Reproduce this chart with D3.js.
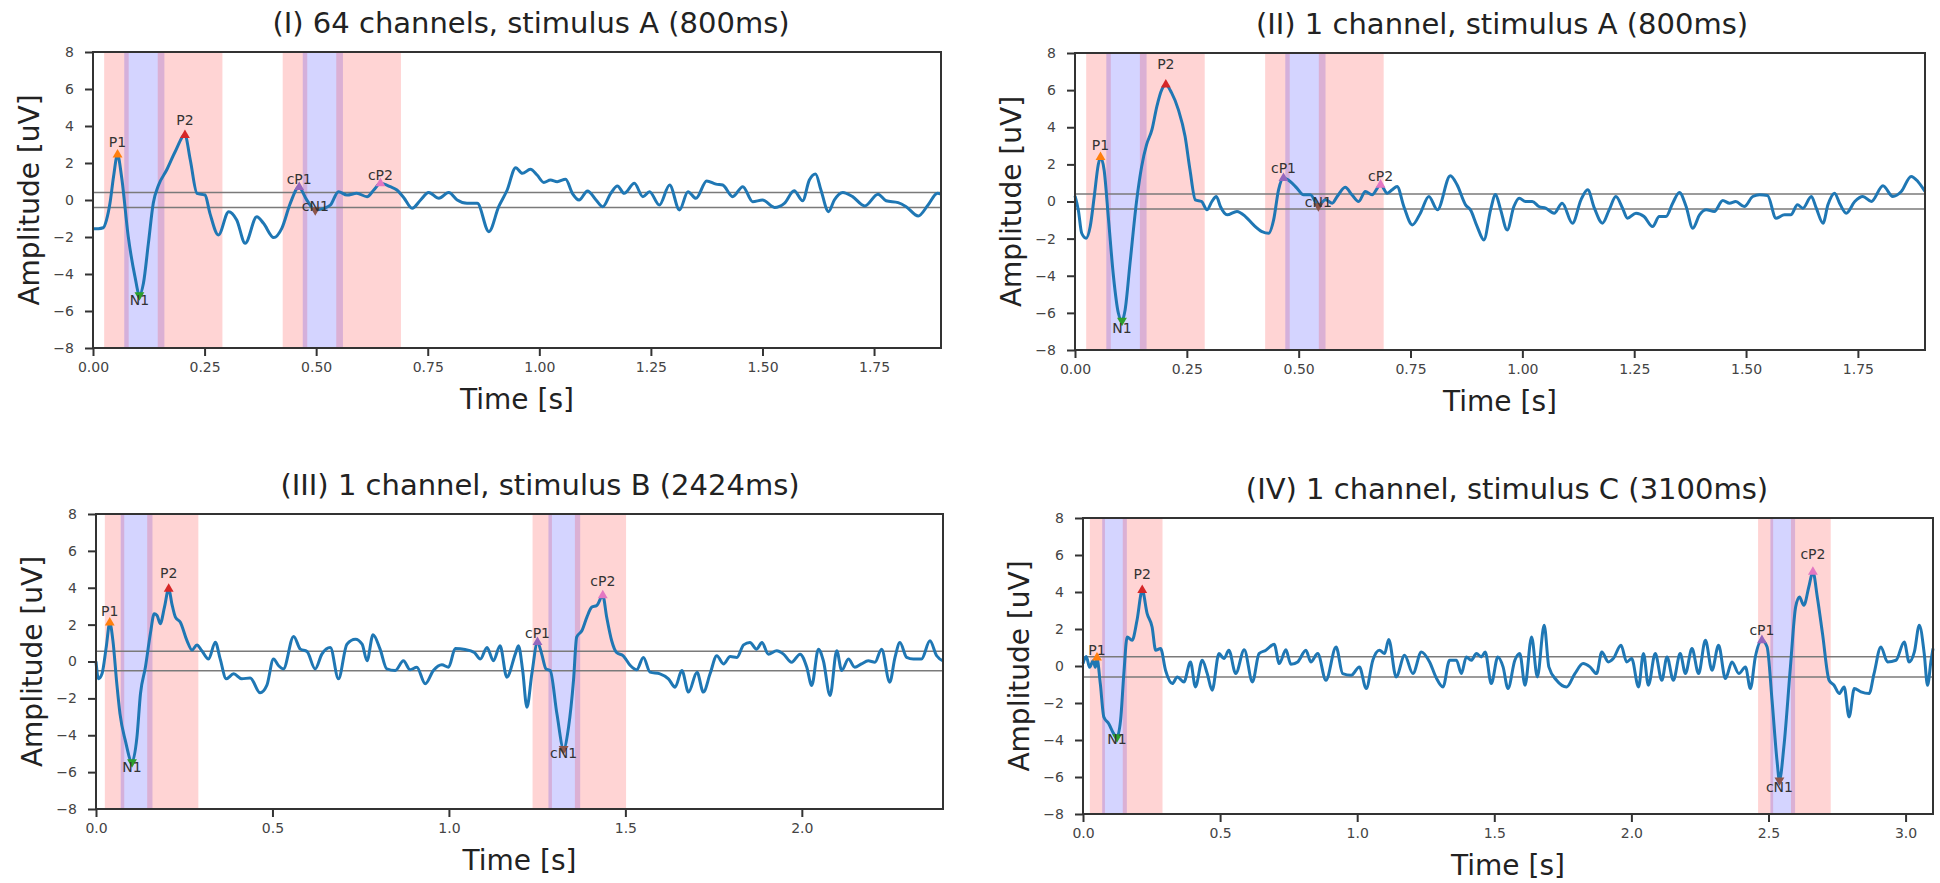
<!DOCTYPE html>
<html><head><meta charset="utf-8">
<script src="https://cdn.jsdelivr.net/npm/d3@7"></script>
<style>body{margin:0;background:#fff;} svg{display:block;font-family:"DejaVu Sans",sans-serif;}</style>
</head><body><svg id="c" width="1940" height="883"></svg>
<script>
// ---------- data ----------
const titles = ["(I) 64 channels, stimulus A (800ms)", "(II) 1 channel, stimulus A (800ms)",
                "(III) 1 channel, stimulus B (2424ms)", "(IV) 1 channel, stimulus C (3100ms)"];
const xMaxes = [1.9, 1.9, 2.4, 3.1];
const xTicksA = [0, 0.25, 0.5, 0.75, 1.0, 1.25, 1.5, 1.75];
const xTicksB = [0, 0.5, 1.0, 1.5, 2.0];
const xTicksC = [0, 0.5, 1.0, 1.5, 2.0, 2.5, 3.0];
const yTicks = [-8, -6, -4, -2, 0, 2, 4, 6, 8];
const windowNames = ["P1", "N1", "P2"];
const windowStarts = [0.025, 0.07, 0.145];
const windowEnds = [0.08, 0.16, 0.29];
const repeatOnsets = [0.4, 0.4, 1.212, 2.437];
const refUpper = [0.4, 0.4, 0.55, 0.5];
const refLower = [-0.4, -0.4, -0.5, -0.6];
const peakNames = ["P1", "N1", "P2", "cP1", "cN1", "cP2"];

const traceI = [[0,-1.55],[0.012,-1.55],[0.023,-1.5],[0.03,-1.1],[0.038,-0.18],[0.046,1.26],[0.055,2.45],[0.064,1.26],[0.079,-1.98],[0.094,-4.14],[0.104,-5.14],[0.113,-4.5],[0.124,-2.36],[0.135,-0.18],[0.147,0.81],[0.165,1.62],[0.184,2.61],[0.206,3.51],[0.218,2.16],[0.233,0.36],[0.251,0.27],[0.262,-0.72],[0.281,-1.89],[0.304,-0.63],[0.322,-1.08],[0.341,-2.34],[0.367,-0.9],[0.382,-1.26],[0.405,-2.03],[0.423,-1.53],[0.442,-0.18],[0.461,0.69],[0.479,0],[0.498,-0.54],[0.517,-0.45],[0.532,-0.27],[0.55,0.45],[0.569,0.27],[0.591,0.36],[0.614,0.18],[0.629,0.54],[0.644,0.9],[0.666,0.72],[0.681,0.54],[0.696,0.14],[0.715,-0.45],[0.734,0],[0.752,0.4],[0.775,0.09],[0.797,0.4],[0.816,0],[0.838,-0.18],[0.861,-0.18],[0.887,-1.71],[0.909,-0.36],[0.928,0.54],[0.947,1.75],[0.962,1.44],[0.98,1.66],[0.995,1.35],[1.01,0.95],[1.025,1.08],[1.04,0.99],[1.059,1.12],[1.074,0.36],[1.089,0],[1.108,0.49],[1.127,0],[1.142,-0.36],[1.16,0.36],[1.175,0.76],[1.19,0.36],[1.213,0.9],[1.232,0.18],[1.247,0.45],[1.269,-0.27],[1.292,0.81],[1.314,-0.54],[1.333,0.45],[1.351,0.09],[1.375,1.03],[1.396,0.86],[1.411,0.81],[1.433,0.18],[1.456,0.72],[1.478,-0.09],[1.5,0],[1.527,-0.4],[1.549,-0.18],[1.571,0.5],[1.59,-0.04],[1.605,1.08],[1.619,1.41],[1.631,0.54],[1.648,-0.63],[1.661,0],[1.68,0.41],[1.702,0.18],[1.729,-0.32],[1.759,0.31],[1.777,-0.04],[1.804,-0.14],[1.822,-0.36],[1.849,-0.86],[1.871,-0.27],[1.892,0.36],[1.9,0.32]];
const traceII = [[0,0.3],[0.0075,-0.47],[0.015,-1.71],[0.025,-1.98],[0.034,-1.35],[0.043,0.27],[0.052,1.98],[0.057,2.39],[0.065,1.71],[0.075,-0.99],[0.086,-4.04],[0.097,-6.02],[0.105,-6.42],[0.112,-5.84],[0.123,-3.32],[0.138,0.09],[0.149,1.89],[0.16,3.06],[0.172,3.87],[0.183,5.13],[0.194,6.03],[0.203,6.29],[0.216,5.85],[0.231,4.95],[0.246,3.51],[0.257,1.71],[0.269,0.09],[0.283,0],[0.295,-0.45],[0.306,0],[0.316,0.27],[0.325,-0.27],[0.34,-0.72],[0.362,-0.54],[0.381,-0.81],[0.399,-1.26],[0.418,-1.62],[0.433,-1.71],[0.444,-0.99],[0.455,0.63],[0.466,1.26],[0.481,1.08],[0.496,0.72],[0.511,0.36],[0.526,0.36],[0.544,-0.2],[0.56,0.09],[0.575,-0.09],[0.586,0.27],[0.604,0.77],[0.619,0.36],[0.634,0],[0.649,0.54],[0.664,0.36],[0.683,0.9],[0.698,0.45],[0.709,0.63],[0.72,0.81],[0.735,-0.27],[0.754,-1.26],[0.772,-0.63],[0.791,0.27],[0.81,-0.45],[0.839,1.39],[0.854,0.9],[0.873,-0.18],[0.884,-0.45],[0.899,-1.35],[0.914,-2.07],[0.929,-0.45],[0.94,0.38],[0.951,-0.41],[0.966,-1.53],[0.981,-0.27],[0.993,0.18],[1.007,0],[1.022,0],[1.037,-0.27],[1.052,-0.36],[1.071,-0.63],[1.089,-0.09],[1.112,-1.17],[1.131,0.09],[1.146,0.63],[1.161,-0.36],[1.179,-1.17],[1.194,-0.45],[1.209,0.27],[1.224,-0.36],[1.235,-0.9],[1.254,-0.63],[1.272,-0.81],[1.291,-1.35],[1.306,-0.81],[1.321,-0.81],[1.336,-0.09],[1.351,0.49],[1.366,-0.27],[1.381,-1.44],[1.396,-0.72],[1.411,-0.45],[1.429,-0.54],[1.448,0.05],[1.463,-0.09],[1.477,0],[1.496,-0.27],[1.515,0.27],[1.53,0.36],[1.548,0.32],[1.567,-0.9],[1.586,-0.72],[1.6,-0.72],[1.615,-0.18],[1.627,-0.36],[1.646,0.27],[1.657,-0.36],[1.672,-1.17],[1.683,-0.18],[1.698,0.45],[1.709,-0.09],[1.724,-0.63],[1.743,0],[1.761,0.27],[1.78,0],[1.806,0.85],[1.828,0.27],[1.847,0.54],[1.869,1.35],[1.884,1.08],[1.9,0.54]];
const traceIII = [[0,0],[0.007,-0.94],[0.017,-0.67],[0.029,0.78],[0.039,2.1],[0.048,1.12],[0.059,-1.21],[0.068,-2.84],[0.083,-4.28],[0.102,-5.46],[0.116,-4.1],[0.126,-1.75],[0.14,-0.31],[0.154,1.5],[0.165,2.59],[0.173,2.5],[0.182,2.05],[0.194,2.95],[0.206,3.94],[0.215,3.13],[0.225,2.41],[0.239,2.13],[0.258,1.12],[0.272,0.62],[0.286,0.9],[0.3,0.58],[0.319,0.13],[0.338,1.05],[0.352,0.13],[0.369,-0.94],[0.39,-0.67],[0.413,-0.94],[0.437,-0.89],[0.465,-1.7],[0.484,-1.3],[0.503,0.13],[0.517,-0.22],[0.531,-0.4],[0.56,1.36],[0.579,0.67],[0.598,0.54],[0.621,-0.4],[0.64,0.4],[0.664,0.76],[0.687,-0.94],[0.711,0.94],[0.735,1.21],[0.754,0.94],[0.768,0.04],[0.785,1.45],[0.805,0.67],[0.824,-0.4],[0.848,-0.49],[0.871,0.04],[0.89,-0.45],[0.909,-0.31],[0.933,-1.21],[0.956,-0.49],[0.98,-0.18],[0.999,-0.31],[1.018,0.7],[1.046,0.65],[1.072,0.49],[1.089,0.13],[1.108,0.76],[1.126,0.04],[1.145,0.85],[1.164,-0.85],[1.188,0.4],[1.197,0.85],[1.209,-0.49],[1.221,-2.48],[1.235,-0.67],[1.251,1.05],[1.263,0.4],[1.275,-0.4],[1.287,-0.49],[1.306,-2.84],[1.325,-4.74],[1.339,-3.56],[1.353,-1.03],[1.362,1.32],[1.377,1.68],[1.391,2.41],[1.405,2.95],[1.419,3.04],[1.436,3.58],[1.447,2.41],[1.461,1.14],[1.475,0.49],[1.494,0.31],[1.514,-0.22],[1.532,-0.45],[1.551,0.22],[1.57,-0.58],[1.598,-0.67],[1.622,-0.94],[1.641,-1.39],[1.66,-0.49],[1.679,-1.66],[1.703,-0.58],[1.721,-1.66],[1.74,-0.67],[1.759,0.31],[1.778,-0.13],[1.797,0.27],[1.816,0.22],[1.835,0.9],[1.853,1.03],[1.872,0.67],[1.887,1.03],[1.905,0.4],[1.929,0.58],[1.948,0.4],[1.971,-0.04],[1.995,0.4],[2.014,-0.31],[2.028,-1.3],[2.047,0.67],[2.061,0.04],[2.08,-1.84],[2.099,0.58],[2.113,-0.49],[2.132,0.13],[2.15,-0.31],[2.169,-0.13],[2.188,0.04],[2.207,-0.04],[2.226,0.67],[2.249,-1.12],[2.264,0.22],[2.278,1.03],[2.297,0.22],[2.316,0.13],[2.339,0.13],[2.363,1.12],[2.382,0.31],[2.4,0.04]];
const traceIV = [[0,0.13],[0.012,0.52],[0.024,-0.07],[0.037,0.29],[0.045,-0.07],[0.051,0.4],[0.063,-0.94],[0.076,-2.76],[0.094,-3.12],[0.112,-3.66],[0.124,-3.84],[0.137,-2.94],[0.149,-0.41],[0.161,1.57],[0.179,1.39],[0.197,2.47],[0.216,4.1],[0.234,2.83],[0.252,2.11],[0.265,0.85],[0.283,0.94],[0.301,-0.23],[0.326,-0.95],[0.344,-0.59],[0.368,-0.86],[0.392,0.22],[0.41,-1.13],[0.435,0.31],[0.453,-0.41],[0.471,-1.31],[0.496,0.67],[0.514,0.4],[0.532,0.85],[0.557,-0.41],[0.588,0.88],[0.618,-0.86],[0.642,0.67],[0.667,0.85],[0.697,1.18],[0.716,0.13],[0.74,0.88],[0.758,0.09],[0.783,0.22],[0.813,0.85],[0.831,0.22],[0.856,0.67],[0.886,-0.77],[0.923,1.03],[0.947,-0.41],[0.978,-0.5],[1.008,-0.05],[1.033,-1.22],[1.057,0.31],[1.081,0.85],[1.1,0.67],[1.115,1.43],[1.142,-0.59],[1.173,0.58],[1.203,-0.41],[1.234,0.76],[1.264,0.22],[1.288,-0.63],[1.313,-1.13],[1.337,0.31],[1.362,0.31],[1.38,-0.41],[1.398,0.49],[1.416,0.31],[1.435,0.67],[1.453,0.49],[1.467,0.76],[1.489,-0.95],[1.513,0.49],[1.532,-0.05],[1.55,-1.22],[1.575,0.31],[1.593,0.67],[1.612,-1.04],[1.636,1.57],[1.657,-0.59],[1.682,2.2],[1.699,-0.05],[1.727,-0.77],[1.764,-1.13],[1.794,-0.41],[1.824,0.13],[1.849,-0.05],[1.873,-0.41],[1.892,0.76],[1.916,0.22],[1.934,0.4],[1.962,1.12],[1.983,0.22],[2.001,0.4],[2.026,-1.13],[2.044,0.67],[2.062,-1.04],[2.087,0.67],[2.111,-0.77],[2.13,0.49],[2.153,-0.77],[2.178,0.67],[2.197,-0.41],[2.221,0.94],[2.245,-0.41],[2.27,1.39],[2.294,-0.23],[2.318,1.12],[2.343,-0.68],[2.367,0.22],[2.392,-0.41],[2.416,-0.05],[2.434,-1.22],[2.452,0.49],[2.476,1.39],[2.495,1.03],[2.513,-1.86],[2.531,-5.1],[2.54,-6.18],[2.556,-4.38],[2.58,-0.05],[2.599,3.19],[2.613,3.73],[2.629,3.28],[2.647,4.27],[2.662,5.09],[2.678,3.73],[2.697,1.75],[2.721,-0.77],[2.739,-1.04],[2.758,-1.49],[2.776,-1.13],[2.794,-2.76],[2.813,-1.22],[2.837,-1.4],[2.867,-1.49],[2.885,-0.41],[2.91,1.03],[2.934,0.22],[2.965,0.31],[2.995,1.3],[3.013,0.22],[3.032,0.76],[3.05,2.2],[3.068,0.67],[3.08,-1.04],[3.093,0.31],[3.1,0.94]];

const peaksI   = [[0.055,2.45],[0.104,-5.14],[0.206,3.51],[0.462,0.69],[0.498,-0.54],[0.644,0.9]];
const peaksII  = [[0.057,2.39],[0.105,-6.42],[0.203,6.29],[0.466,1.26],[0.544,-0.25],[0.683,0.9]];
const peaksIII = [[0.039,2.1],[0.102,-5.46],[0.206,3.94],[1.251,1.05],[1.325,-4.74],[1.436,3.58]];
const peaksIV  = [[0.051,0.45],[0.124,-3.84],[0.216,4.1],[2.476,1.39],[2.54,-6.18],[2.662,5.09]];

// ---------- layout / style ----------
const traces = [traceI, traceII, traceIII, traceIV];
const peaks = [peaksI, peaksII, peaksIII, peaksIV];
const xTickSets = [xTicksA, xTicksA, xTicksB, xTicksC];
const xTickFmt = [d3.format(".2f"), d3.format(".2f"), d3.format(".1f"), d3.format(".1f")];
const boxes = [
  {left: 93, top: 52, right: 941, bottom: 348, titleX: 531},
  {left: 1075, top: 53, right: 1925, bottom: 350, titleX: 1502},
  {left: 96, top: 514, right: 943, bottom: 809, titleX: 540},
  {left: 1083, top: 518, right: 1933, bottom: 814, titleX: 1507}
];
const peakColors = {P1: "#ff7f0e", N1: "#2ca02c", P2: "#d62728", cP1: "#9467bd", cN1: "#8c564b", cP2: "#e377c2"};
const winColors = {P1: "#ff0000", N1: "#0000ff", P2: "#ff0000"};

const svg = d3.select("#c");
svg.append("rect").attr("width", 1940).attr("height", 883).attr("fill", "#fff");

boxes.forEach((b, i) => {
  const x = d3.scaleLinear().domain([0, xMaxes[i]]).range([b.left, b.right]);
  const y = d3.scaleLinear().domain([-8, 8]).range([b.bottom, b.top]);
  const g = svg.append("g");

  // shaded windows
  const wins = [];
  [0, repeatOnsets[i]].forEach(off => {
    windowNames.forEach((n, k) => wins.push({n, s: windowStarts[k] + off, e: windowEnds[k] + off}));
  });
  g.selectAll("rect.win").data(wins).join("rect")
    .attr("x", d => x(d.s)).attr("width", d => x(d.e) - x(d.s))
    .attr("y", y(8)).attr("height", y(-8) - y(8))
    .attr("fill", d => winColors[d.n]).attr("fill-opacity", 0.17);

  // reference lines
  [refUpper[i], refLower[i]].forEach(v => {
    g.append("line").attr("x1", x(0)).attr("x2", x(xMaxes[i]))
      .attr("y1", y(v)).attr("y2", y(v)).attr("stroke", "#7a7a7a").attr("stroke-width", 1.5);
  });

  // trace
  const line = d3.line().x(d => x(d[0])).y(d => y(d[1])).curve(d3.curveMonotoneX);
  g.append("path").datum(traces[i]).attr("d", line)
    .attr("fill", "none").attr("stroke", "#1f77b4").attr("stroke-width", 3)
    .attr("stroke-linejoin", "round");

  // peak markers + labels
  peaks[i].forEach((p, k) => {
    const name = peakNames[k];
    const neg = name.indexOf("N") >= 0;
    g.append("path")
      .attr("d", d3.symbol(d3.symbolTriangle, 42)())
      .attr("transform", `translate(${x(p[0])},${y(p[1])})` + (neg ? " rotate(180)" : ""))
      .attr("fill", peakColors[name]);
    const lv = neg ? p[1] * 1.1 : p[1] * 1.12 + 0.1;
    g.append("text").attr("x", x(p[0])).attr("y", y(lv))
      .attr("text-anchor", "middle").attr("font-size", 14).attr("fill", "#333").text(name);
  });

  // axes
  const xAxis = d3.axisBottom(x).tickValues(xTickSets[i]).tickFormat(xTickFmt[i]).tickSize(8).tickPadding(6);
  const yAxis = d3.axisLeft(y).tickValues(yTicks).tickFormat(d => d < 0 ? "\u2212" + Math.abs(d) : d).tickSize(8).tickPadding(11);
  const xa = g.append("g").attr("transform", `translate(0,${b.bottom})`).call(xAxis);
  const ya = g.append("g").attr("transform", `translate(${b.left},0)`).call(yAxis);
  [xa, ya].forEach(a => {
    a.select(".domain").remove();
    a.selectAll(".tick line").attr("stroke", "#333").attr("stroke-width", 2);
    a.selectAll(".tick text").attr("font-size", 14).attr("fill", "#444")
      .attr("font-family", "DejaVu Sans, sans-serif");
  });

  // frame
  g.append("rect").attr("x", b.left).attr("y", b.top)
    .attr("width", b.right - b.left).attr("height", b.bottom - b.top)
    .attr("fill", "none").attr("stroke", "#333").attr("stroke-width", 2);

  // title + labels
  svg.append("text").attr("x", b.titleX).attr("y", b.top - 19)
    .attr("text-anchor", "middle").attr("font-size", 29).attr("fill", "#222").text(titles[i]);
  svg.append("text").attr("x", (b.left + b.right) / 2).attr("y", b.bottom + 61)
    .attr("text-anchor", "middle").attr("font-size", 28).attr("fill", "#222").text("Time [s]");
  svg.append("text").attr("transform", `translate(${b.left - 64},${(b.top + b.bottom) / 2}) rotate(-90)`)
    .attr("text-anchor", "middle").attr("dominant-baseline", "central")
    .attr("font-size", 28).attr("fill", "#222").text("Amplitude [uV]");
});
</script></body></html>
